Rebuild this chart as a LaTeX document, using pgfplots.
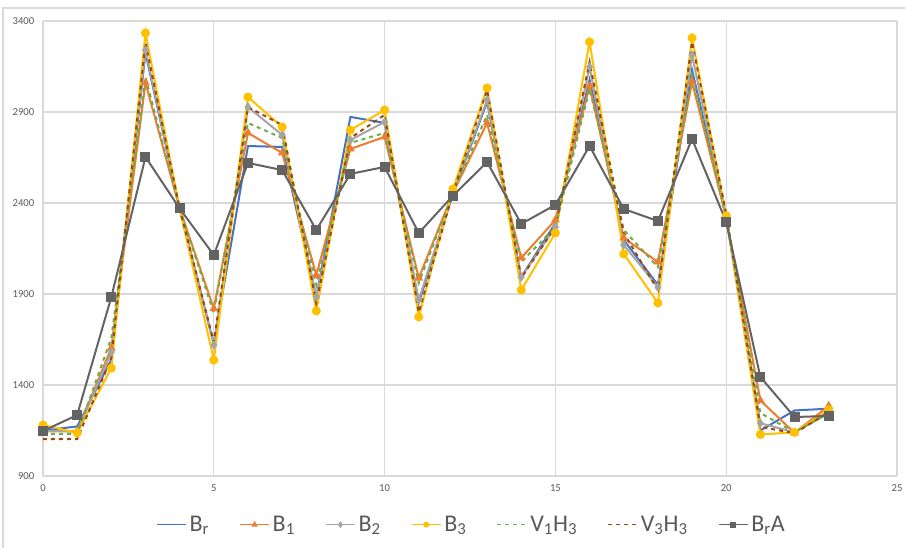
\documentclass[border=0pt]{standalone}
\usepackage{fontspec}
\setmainfont{Carlito}
\usepackage{pgfplots}
\pgfplotsset{compat=1.18}
\definecolor{cBr}{HTML}{4472C4}
\definecolor{cB1}{HTML}{ED7D31}
\definecolor{cB2}{HTML}{A5A5A5}
\definecolor{cB3}{HTML}{FFC000}
\definecolor{cV1}{HTML}{70AD47}
\definecolor{cV3}{HTML}{9E480E}
\definecolor{cBrA}{HTML}{636363}
\definecolor{gridc}{HTML}{D9D9D9}
\definecolor{txt}{HTML}{595959}
\begin{document}
\begin{tikzpicture}
\useasboundingbox (0pt,0pt) rectangle (678.75pt,411pt);
\draw[gridc, line width=0.8pt] (2.25pt,0pt) -- (2.25pt,405pt) -- (678.75pt,405pt);
\begin{axis}[
  at={(32.25pt,54pt)}, anchor=south west,
  scale only axis, width=640.5pt, height=341.25pt,
  xmin=0, xmax=25, ymin=900, ymax=3400,
  xtick={0,5,...,25}, ytick={900,1400,...,3400},
  grid=major, grid style={gridc, line width=0.8pt},
  axis line style={draw=none}, major tick length=0pt,
  tick label style={font=\fontsize{8}{9}\selectfont, text=txt},
  /pgf/number format/assume math mode=true,
  /pgf/number format/1000 sep={},
  yticklabel style={xshift=-3pt},
  xticklabel style={yshift=-3pt},
  legend columns=-1,
  legend style={at={(0.502,-0.107)}, anchor=center, draw=none, fill=none,
    font=\fontsize{18}{20}\selectfont, text=txt,
    /tikz/every even column/.append style={column sep=20.5pt}},
  legend image code/.code={\draw[mark repeat=2,mark phase=2] plot coordinates {(0pt,0pt) (11pt,0pt) (22pt,0pt)};},
  legend image post style={line width=1.2pt, mark size=1.6pt},
  every axis plot/.append style={line width=1.5pt},
]
\addplot[cBr, mark=none] coordinates {(0,1150)(1,1172)(2,1540)(3,3225)(4,2370)(5,1625)(6,2713)(7,2708)(8,1884)(9,2873)(10,2840)(11,1850)(12,2450)(13,2955)(14,1993)(15,2290)(16,3076)(17,2197)(18,1950)(19,3131)(20,2320)(21,1150)(22,1260)(23,1270)};
\addlegendentry{B\textsubscript{r}}
\addplot[cB1, mark=triangle*, mark size=2.3pt, mark options={solid}] coordinates {(0,1145)(1,1147)(2,1603)(3,3060)(4,2370)(5,1820)(6,2785)(7,2675)(8,2004)(9,2697)(10,2763)(11,1988)(12,2455)(13,2840)(14,2098)(15,2307)(16,3043)(17,2208)(18,2076)(19,3065)(20,2320)(21,1315)(22,1137)(23,1285)};
\addlegendentry{B\textsubscript{1}}
\addplot[cB2, mark=diamond*, mark size=2.3pt, mark options={solid}] coordinates {(0,1150)(1,1142)(2,1581)(3,3240)(4,2370)(5,1620)(6,2927)(7,2774)(8,1884)(9,2746)(10,2845)(11,1867)(12,2455)(13,2966)(14,1993)(15,2268)(16,3148)(17,2170)(18,1938)(19,3213)(20,2320)(21,1190)(22,1140)(23,1245)};
\addlegendentry{B\textsubscript{2}}
\addplot[cB3, mark=*, mark size=2.6pt, mark options={solid}] coordinates {(0,1180)(1,1137)(2,1493)(3,3334)(4,2370)(5,1537)(6,2982)(7,2818)(8,1807)(9,2801)(10,2911)(11,1774)(12,2477)(13,3032)(14,1922)(15,2235)(16,3285)(17,2120)(18,1851)(19,3307)(20,2330)(21,1128)(22,1140)(23,1263)};
\addlegendentry{B\textsubscript{3}}
\addplot[cV1, dashed, mark=none] coordinates {(0,1131)(1,1131)(2,1658)(3,3092)(4,2370)(5,1795)(6,2840)(7,2757)(8,1950)(9,2730)(10,2785)(11,1960)(12,2455)(13,2884)(14,2076)(15,2268)(16,3026)(17,2252)(18,2048)(19,3103)(20,2330)(21,1246)(22,1140)(23,1246)};
\addlegendentry{V\textsubscript{1}H\textsubscript{3}}
\addplot[cV3, dashed, mark=none] coordinates {(0,1103)(1,1103)(2,1548)(3,3280)(4,2370)(5,1636)(6,2927)(7,2829)(8,1850)(9,2757)(10,2884)(11,1800)(12,2455)(13,3020)(14,1988)(15,2268)(16,3175)(17,2235)(18,1922)(19,3285)(20,2340)(21,1170)(22,1135)(23,1250)};
\addlegendentry{V\textsubscript{3}H\textsubscript{3}}
\addplot[cBrA, mark=square*, mark size=3pt, mark options={solid}] coordinates {(0,1147)(1,1235)(2,1883)(3,2653)(4,2370)(5,2114)(6,2620)(7,2581)(8,2252)(9,2560)(10,2598)(11,2235)(12,2440)(13,2625)(14,2285)(15,2390)(16,2713)(17,2367)(18,2301)(19,2752)(20,2296)(21,1444)(22,1224)(23,1230)};
\addlegendentry{B\textsubscript{r}A}
\end{axis}
\end{tikzpicture}
\end{document}
